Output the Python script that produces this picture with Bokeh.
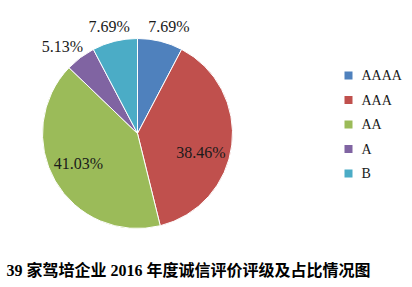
import math
from bokeh.plotting import figure
from bokeh.models import Range1d, ColumnDataSource
from bokeh.core.properties import value
from bokeh.embed import file_html
from bokeh.resources import INLINE

categories = ["AAAA", "AAA", "AA", "A", "B"]
counts = [3, 15, 16, 2, 3]
pct_labels = ["7.69%", "38.46%", "41.03%", "5.13%", "7.69%"]
colors = ["#4F81BD", "#C0504D", "#9BBB59", "#8064A2", "#4BACC6"]
title_text = "39 家驾培企业 2016 年度诚信评价评级及占比情况图"

SERIF = "'Liberation Serif', 'Times New Roman', serif"
TITLE_FONT = "'Liberation Serif', 'Noto Sans CJK SC', serif"

W, H = 412, 287
p = figure(width=W, height=H, output_backend="svg", toolbar_location=None,
           x_range=Range1d(0, W), y_range=Range1d(0, H), min_border=0)
p.axis.visible = False
p.grid.visible = False
p.outline_line_color = None
p.background_fill_color = "white"
p.border_fill_color = "white"

cx, cy, R = 137, H - 133, 95
total = sum(counts)
starts, ends, mids = [], [], []
acc = 0.0
for c in counts:
    a0 = math.pi / 2 - 2 * math.pi * acc / total
    acc += c
    a1 = math.pi / 2 - 2 * math.pi * acc / total
    starts.append(a0)
    ends.append(a1)
    mids.append((a0 + a1) / 2)

src = ColumnDataSource(dict(start=starts, end=ends, color=colors))
p.wedge(x=cx, y=cy, radius=R, start_angle="start", end_angle="end",
        direction="clock", fill_color="color", line_color="white",
        line_width=1, source=src)

# data labels
label_r = [110, 66, 66, 109, 110]
dx = [5, -2, -2, -9.5, -2]
dy = [0, -11, 3, 0, 0]
lx = [cx + r * math.cos(m) + ox for r, m, ox in zip(label_r, mids, dx)]
ly = [cy + r * math.sin(m) + oy for r, m, oy in zip(label_r, mids, dy)]
p.text(x=lx, y=ly, text=pct_labels, text_font=value(SERIF),
       text_font_size="16px", text_align="center", text_baseline="middle",
       text_color="#1a1a1a")

# legend
leg_y = [H - (75 + 24.5 * i) for i in range(len(categories))]
p.scatter(x=[348] * len(categories), y=leg_y, marker="square", size=8,
          fill_color=colors, line_color=None)
p.text(x=[361] * len(categories), y=leg_y, text=categories,
       text_font=value(SERIF), text_font_size="14px",
       text_align="left", text_baseline="middle", text_color="#1a1a1a")

# title
p.text(x=[6], y=[H - 270], text=[title_text],
       text_font=value(TITLE_FONT),
       text_font_size="16px", text_font_style="bold",
       text_align="left", text_baseline="middle", text_color="black")

open("out.html", "w").write(file_html(p, INLINE))
